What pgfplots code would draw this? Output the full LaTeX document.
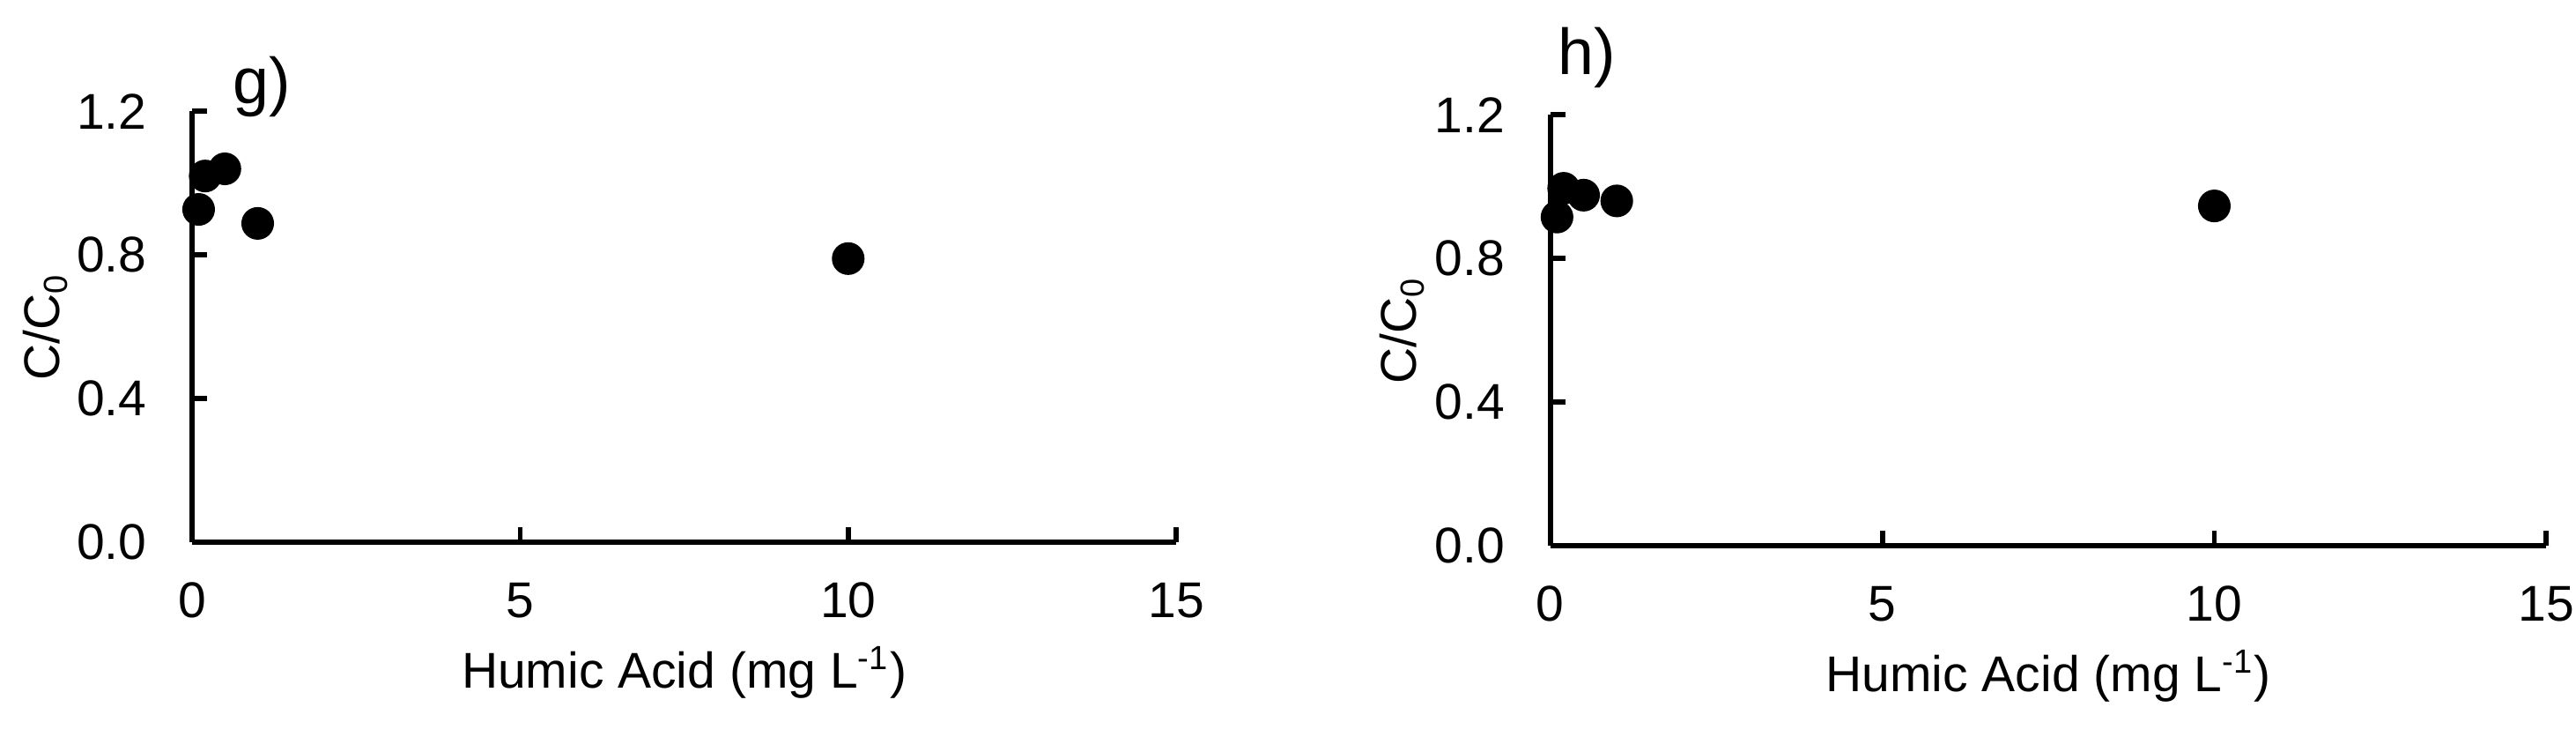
\documentclass[border=0pt]{standalone}
\usepackage{fontspec}
\setmainfont{Liberation Sans}
\usepackage{pgfplots}
\pgfplotsset{compat=1.18}
\begin{document}
\fontsize{12}{14}\selectfont
\begin{tikzpicture}
\useasboundingbox (-45.9pt,-46.5pt) rectangle (569.7pt,129.5pt);
\pgfplotsset{panel/.style={
  scale only axis,
  height=102.9pt,
  xmin=0, xmax=15,
  ymin=0, ymax=1.2,
  axis lines=left,
  axis line style={-, line width=1.2pt},
  tick align=inside,
  major tick length=3.6pt,
  tick style={black, line width=1.2pt},
  xtick={0,5,10,15},
  ytick={0,0.4,0.8,1.2},
  yticklabel style={/pgf/number format/.cd, fixed, fixed zerofill, precision=1, /tikz/.cd, xshift=-6.7pt},
  xticklabel style={yshift=-5.5pt},
  /pgf/number format/assume math mode=true,
  clip=false,
  xlabel={Humic Acid (mg L\textsuperscript{-1})},
  ylabel={C/C\textsubscript{0}},
  xlabel style={at={(axis description cs:0.5,-0.338)}, anchor=base},
  ylabel style={at={(axis description cs:-0.149,0.5)}, anchor=center, rotate=0},
}}
\begin{axis}[panel, width=235.2pt, at={(0,0)}, anchor=origin]
\addplot[only marks, mark=*, mark size=3.7pt, black] coordinates {
(0.1,0.927) (0.2,1.02) (0.5,1.04) (1,0.888) (10,0.79)
};
\node[anchor=base west, inner sep=0pt, font=\fontsize{15.5}{18}\selectfont] at (axis description cs:0.041,1.019) {g)};
\end{axis}
\begin{axis}[panel, width=238pt, at={(324.6pt,-0.8pt)}, anchor=origin, axis line style={-, line width=1.4pt}]
\addplot[only marks, mark=*, mark size=3.7pt, black] coordinates {
(0.1,0.915) (0.2,0.995) (0.5,0.976) (1,0.96) (10,0.946)
};
\node[anchor=base west, inner sep=0pt, font=\fontsize{15.5}{18}\selectfont] at (axis description cs:0.007,1.093) {h)};
\end{axis}
\end{tikzpicture}
\end{document}
